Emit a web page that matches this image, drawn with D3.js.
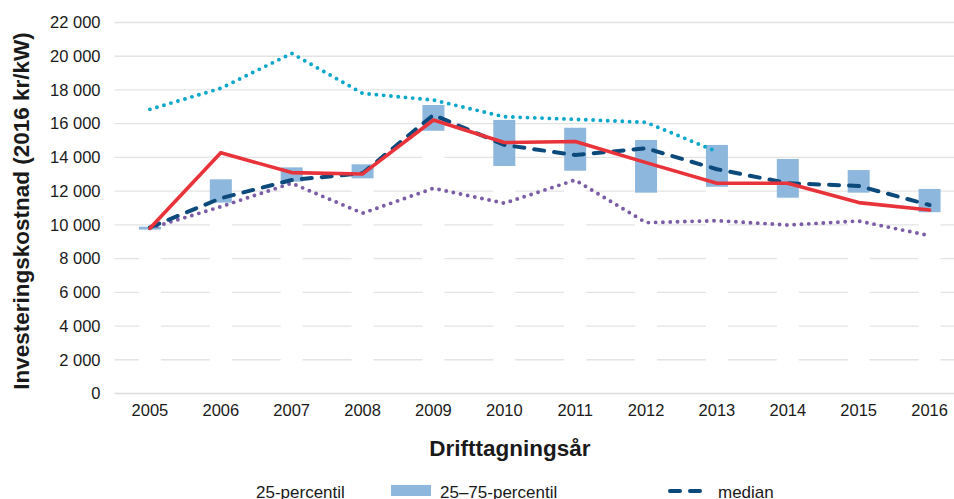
<!DOCTYPE html>
<html>
<head>
<meta charset="utf-8">
<script src="https://cdn.jsdelivr.net/npm/d3@7"></script>
<style>
  body { margin: 0; background: #fff; }
  svg { display: block; font-family: "Liberation Sans", Arial, sans-serif; }
</style>
</head>
<body>
<script>
// Data
var years = ["2005", "2006", "2007", "2008", "2009", "2010", "2011", "2012", "2013", "2014", "2015", "2016"];
var p25 = [9720, 11320, 12560, 12760, 15580, 13490, 13210, 11910, 12260, 11610, 11910, 10750];
var p75 = [9890, 12700, 13410, 13590, 17110, 16220, 15760, 15030, 14740, 13910, 13250, 12130];
var median = [9850, 11580, 12660, 13060, 16520, 14740, 14140, 14540, 13300, 12470, 12310, 11180];
var mean = [9800, 14280, 13100, 13020, 16220, 14880, 14940, 13690, 12470, 12470, 11320, 10880];
var upper = [16850, 18100, 20170, 17800, 17400, 16410, 16260, 16080, 14340, null, null, null];
var lower = [9800, 11080, 12470, 10690, 12170, 11280, 12660, 10130, 10250, 9990, 10230, 9360];
var yTicks = [0, 2000, 4000, 6000, 8000, 10000, 12000, 14000, 16000, 18000, 20000, 22000];

var width = 954, height = 499;
var plotLeft = 114.5, plotRight = 965, plotTop = 22.5, plotBottom = 393.5;

var svgC = d3.select("body").append("svg").attr("width", width).attr("height", height);

var x = d3.scaleBand().domain(years).range([plotLeft, plotRight]).padding(0);
var y = d3.scaleLinear().domain([0, 22000]).range([plotBottom, plotTop]);
var barW = 22;

var fmt = d3.formatLocale({ decimal: ",", thousands: "\u00a0", grouping: [3], currency: ["", ""] }).format(",d");

// gridlines
svgC.append("g").selectAll("line").data(yTicks.filter(function(d) { return d > 0; })).enter().append("line")
  .attr("x1", plotLeft).attr("x2", plotRight)
  .attr("y1", function(d) { return y(d); }).attr("y2", function(d) { return y(d); })
  .attr("stroke", "#e3e3e3").attr("stroke-width", 1.3);

// invisible bottom bar (0 -> 25-percentil), white so it hides the grid
svgC.append("g").selectAll("rect").data(years).enter().append("rect")
  .attr("x", function(d) { return x(d) + x.bandwidth() / 2 - barW / 2; })
  .attr("width", barW)
  .attr("y", function(d, i) { return y(p25[i]); })
  .attr("height", function(d, i) { return y(0) - y(p25[i]); })
  .style("fill", "#ffffff");

// 25-75 box
svgC.append("g").selectAll("rect").data(years).enter().append("rect")
  .attr("x", function(d) { return x(d) + x.bandwidth() / 2 - barW / 2; })
  .attr("width", barW)
  .attr("y", function(d, i) { return y(p75[i]); })
  .attr("height", function(d, i) { return y(p25[i]) - y(p75[i]); })
  .style("fill", "#8db7dc");

// x axis baseline
svgC.append("line").attr("x1", plotLeft).attr("x2", plotRight).attr("y1", y(0)).attr("y2", y(0))
  .attr("stroke", "#dcdcdc").attr("stroke-width", 1.3);

// y tick labels
var yAxis = svgC.append("g").attr("transform", "translate(" + (plotLeft - 5) + ",0)")
  .call(d3.axisLeft(y).tickValues(yTicks).tickFormat(fmt).tickSize(0).tickPadding(9));
yAxis.select(".domain").remove();
yAxis.selectAll("text").style("font-size", "16.5px").style("fill", "#1a1a1a").style("font-family", "Liberation Sans, Arial, sans-serif");

// x tick labels
var xAxis = svgC.append("g").attr("transform", "translate(0," + plotBottom + ")")
  .call(d3.axisBottom(x).tickSize(0).tickPadding(11));
xAxis.select(".domain").remove();
xAxis.selectAll("text").style("font-size", "16.5px").style("fill", "#1a1a1a").style("font-family", "Liberation Sans, Arial, sans-serif");

function cx(d, i) { return x(years[i]) + x.bandwidth() / 2; }

function drawLine(vals, color, w, dash) {
  var line = d3.line()
    .defined(function(d) { return d != null; })
    .x(function(d, i) { return cx(d, i); })
    .y(function(d) { return y(d); });
  var p = svgC.append("path").datum(vals)
    .attr("d", line)
    .attr("fill", "none")
    .attr("stroke", color)
    .attr("stroke-width", w)
    .attr("stroke-linecap", "round")
    .attr("stroke-linejoin", "round");
  if (dash) p.attr("stroke-dasharray", dash);
  return p;
}

drawLine(lower, "#7b5ca6", 3.9, "0,7.3");
drawLine(upper, "#0aa7cb", 3.9, "0,7.3");
drawLine(median, "#0c4a7c", 4, "10,10");
drawLine(mean, "#e8333a", 3.6, null);

// axis titles
svgC.append("text")
  .attr("transform", "translate(29," + 211 + ") rotate(-90)")
  .style("text-anchor", "middle")
  .style("font-size", "22.5px").style("font-weight", "bold").style("fill", "#1a1a1a")
  .text("Investeringskostnad (2016 kr/kW)");

svgC.append("text")
  .attr("x", 510).attr("y", 456)
  .style("text-anchor", "middle")
  .style("font-size", "22.5px").style("font-weight", "bold").style("fill", "#1a1a1a")
  .text("Drifttagningsår");

// legend (first row, cut by the bottom edge as in the original)
var legY = 498;
svgC.append("text").attr("x", 256).attr("y", legY)
  .style("font-size", "17px").style("fill", "#1a1a1a").text("25-percentil");

svgC.append("rect").attr("x", 391).attr("y", 485).attr("width", 40).attr("height", 11)
  .style("fill", "#8db7dc");
svgC.append("text").attr("x", 440).attr("y", legY)
  .style("font-size", "17px").style("fill", "#1a1a1a").text("25–75-percentil");

svgC.append("line").attr("x1", 670).attr("x2", 706).attr("y1", 491).attr("y2", 491)
  .attr("stroke", "#0c4a7c").attr("stroke-width", 4).attr("stroke-linecap", "round")
  .attr("stroke-dasharray", "10,10");
svgC.append("text").attr("x", 718).attr("y", legY)
  .style("font-size", "17px").style("fill", "#1a1a1a").text("median");
</script>
</body>
</html>
